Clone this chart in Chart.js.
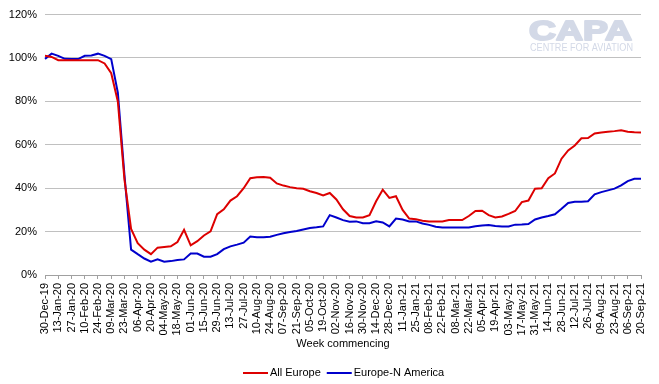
<!DOCTYPE html>
<html>
<head>
<meta charset="utf-8">
<script src="https://cdn.jsdelivr.net/npm/chart.js@4/dist/chart.umd.min.js"></script>
<style>
  html, body { margin: 0; padding: 0; background: #fff; }
  #wrap { width: 659px; height: 384px; position: relative; }
</style>
</head>
<body>
<div id="wrap"><canvas id="chart" width="659" height="384"></canvas></div>
<script>
// weekly categories, 30-Dec-19 .. 20-Sep-21
const weeks = [
  '30-Dec-19','06-Jan-20','13-Jan-20','20-Jan-20','27-Jan-20','03-Feb-20','10-Feb-20','17-Feb-20','24-Feb-20','02-Mar-20',
  '09-Mar-20','16-Mar-20','23-Mar-20','30-Mar-20','06-Apr-20','13-Apr-20','20-Apr-20','27-Apr-20','04-May-20','11-May-20',
  '18-May-20','25-May-20','01-Jun-20','08-Jun-20','15-Jun-20','22-Jun-20','29-Jun-20','06-Jul-20','13-Jul-20','20-Jul-20',
  '27-Jul-20','03-Aug-20','10-Aug-20','17-Aug-20','24-Aug-20','31-Aug-20','07-Sep-20','14-Sep-20','21-Sep-20','28-Sep-20',
  '05-Oct-20','12-Oct-20','19-Oct-20','26-Oct-20','02-Nov-20','09-Nov-20','16-Nov-20','23-Nov-20','30-Nov-20','07-Dec-20',
  '14-Dec-20','21-Dec-20','28-Dec-20','04-Jan-21','11-Jan-21','18-Jan-21','25-Jan-21','01-Feb-21','08-Feb-21','15-Feb-21',
  '22-Feb-21','01-Mar-21','08-Mar-21','15-Mar-21','22-Mar-21','29-Mar-21','05-Apr-21','12-Apr-21','19-Apr-21','26-Apr-21',
  '03-May-21','10-May-21','17-May-21','24-May-21','31-May-21','07-Jun-21','14-Jun-21','21-Jun-21','28-Jun-21','05-Jul-21',
  '12-Jul-21','19-Jul-21','26-Jul-21','02-Aug-21','09-Aug-21','16-Aug-21','23-Aug-21','30-Aug-21','06-Sep-21','13-Sep-21',
  '20-Sep-21'
];

// % of 2019 level
const allEurope = [
  101, 100.5, 99, 99, 99, 99, 99, 99, 99, 97.5,
  93, 80, 44, 21.2, 14.7, 11.7, 9.6, 12.6, 12.9, 13.2,
  15.2, 20.8, 13.7, 15.6, 18.2, 20.1, 28, 30.3, 34.3, 36.3,
  40, 44.6, 45, 45.2, 44.8, 42.2, 41.2, 40.5, 40, 39.7,
  38.6, 37.8, 36.7, 37.8, 34.8, 30.3, 27.2, 26.5, 26.5, 27.6,
  34, 39.3, 35.5, 36.3, 30, 26, 25.7, 25, 24.7, 24.7,
  24.7, 25.3, 25.3, 25.3, 27.2, 29.5, 29.6, 27.6, 26.5, 27,
  28.2, 29.5, 33.6, 34.3, 39.8, 40, 44.6, 46.8, 53.6, 57.4,
  59.7, 63, 63.1, 65.2, 65.7, 66, 66.3, 66.7, 66, 65.8,
  65.7
];

const europeNAmerica = [
  99.6, 102, 101, 99.6, 99.5, 99.5, 101, 101.2, 102, 101,
  99.5, 84, 46, 11.7, 9.6, 7.6, 6.1, 7.2, 6.1, 6.4,
  6.9, 7.2, 9.9, 9.9, 8.4, 8.4, 9.6, 11.9, 13.2, 14,
  14.9, 17.7, 17.4, 17.4, 17.6, 18.5, 19.2, 19.8, 20.3, 21,
  21.7, 22, 22.4, 27.6, 26.5, 25.3, 24.5, 24.7, 23.9, 23.9,
  24.8, 24.2, 22.4, 26, 25.6, 24.7, 24.7, 23.7, 23.1, 22.2,
  21.9, 21.9, 21.9, 21.9, 21.9, 22.5, 22.8, 23, 22.6, 22.3,
  22.4, 23.2, 23.3, 23.5, 25.6, 26.5, 27.2, 28, 30.5, 33.2,
  33.7, 33.8, 34, 37.2, 38.2, 39, 39.8, 41.3, 43.3, 44.3,
  44.3
];

const FONT = 'Liberation Sans, Arial, sans-serif';
Chart.defaults.font.family = FONT;
Chart.defaults.font.size = 11;
Chart.defaults.color = '#000';

// faint CAPA watermark, top right
const watermark = {
  id: 'watermark',
  beforeDatasetsDraw(chart) {
    const c = chart.ctx;
    c.save();
    c.fillStyle = '#d3d9e7';
    c.strokeStyle = '#d3d9e7';
    c.lineWidth = 2;
    c.lineJoin = 'round';
    c.textBaseline = 'alphabetic';
    c.font = 'bold 28px ' + FONT;
    let w = c.measureText('CAPA').width;
    c.translate(529, 40);
    c.scale(103 / w, 1);
    c.fillText('CAPA', 0, 0);
    c.strokeText('CAPA', 0, 0);
    c.restore();
    c.save();
    c.fillStyle = '#d3d9e7';
    c.font = '10px ' + FONT;
    w = c.measureText('CENTRE FOR AVIATION').width;
    c.translate(530, 51);
    c.scale(103 / w, 1);
    c.fillText('CENTRE FOR AVIATION', 0, 0);
    c.restore();
  }
};

// legend like the original: short line, then the label
const lineLegend = {
  id: 'lineLegend',
  afterDraw(chart) {
    const c = chart.ctx;
    const y = 373;
    let x = 243;
    c.save();
    c.font = '11px ' + FONT;
    c.textBaseline = 'middle';
    chart.data.datasets.forEach(ds => {
      c.strokeStyle = ds.borderColor;
      c.lineWidth = 2;
      c.beginPath();
      c.moveTo(x, y);
      c.lineTo(x + 25, y);
      c.stroke();
      c.fillStyle = '#000';
      c.fillText(ds.label, x + 27, y);
      x += 27 + c.measureText(ds.label).width + 6;
    });
    c.restore();
  }
};

new Chart(document.getElementById('chart'), {
  type: 'line',
  data: {
    labels: weeks,
    datasets: [
      { label: 'All Europe', data: allEurope, borderColor: '#dd0000', backgroundColor: '#dd0000',
        borderWidth: 2, pointRadius: 0, tension: 0 },
      { label: 'Europe-N America', data: europeNAmerica, borderColor: '#0000cc', backgroundColor: '#0000cc',
        borderWidth: 2, pointRadius: 0, tension: 0 }
    ]
  },
  options: {
    responsive: false,
    animation: false,
    layout: { padding: { top: 6, right: 18, left: 0, bottom: 22 } },
    plugins: {
      legend: { display: false },
      tooltip: { enabled: false }
    },
    scales: {
      x: {
        offset: false,
        grid: {
          drawOnChartArea: false, drawTicks: true, tickLength: 4,
          color: ctx => (ctx.index % 2 === 0 ? '#a0a0a0' : 'rgba(0,0,0,0)')
        },
        border: { color: '#a0a0a0' },
        ticks: {
          autoSkip: false, maxRotation: 90, minRotation: 90, padding: 4,
          callback: (v, i) => (i % 2 === 0 ? weeks[i] : '')
        },
        title: { display: true, text: 'Week commencing', padding: { top: 4, bottom: 11 } },
        afterFit: s => { s.height = 87; }
      },
      y: {
        min: 0, max: 120,
        grid: { color: '#c0c0c0', drawTicks: false },
        border: { display: false },
        ticks: { stepSize: 20, padding: 8, callback: v => v + '%' },
        afterFit: s => { s.width = 45; }
      }
    }
  },
  plugins: [watermark, lineLegend]
});
</script>
</body>
</html>
